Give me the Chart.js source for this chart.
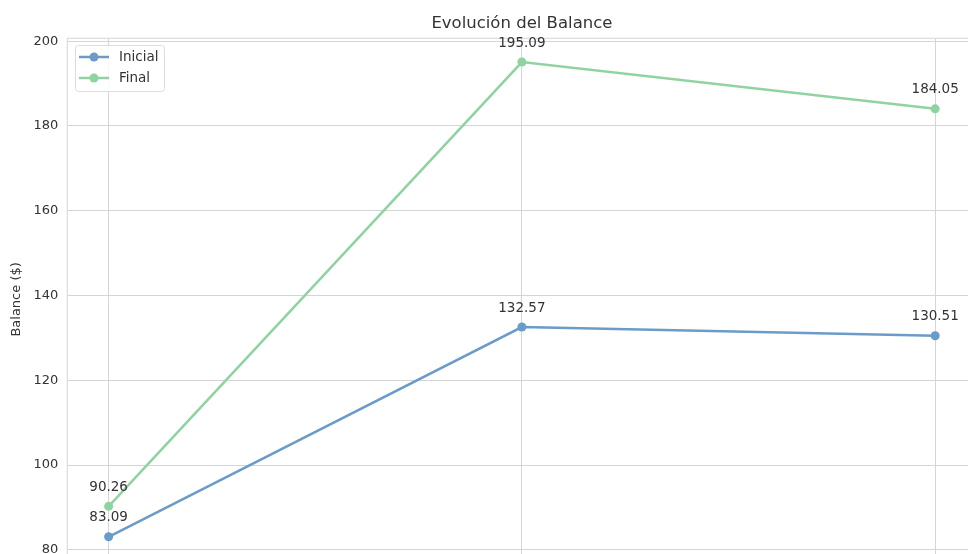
<!DOCTYPE html>
<html>
<head>
<meta charset="utf-8">
<script src="https://cdn.jsdelivr.net/npm/chart.js@4"></script>
<style>
  html, body { margin: 0; padding: 0; background: #ffffff; overflow: hidden; }
  #frame { width: 968px; height: 554px; overflow: hidden; position: relative; }
  #box { width: 1000px; height: 580px; position: absolute; left: 0; top: 0; }
</style>
</head>
<body>
<div id="frame"><div id="box"><canvas id="chart"></canvas></div></div>
<script>
// Balance per period (x positions 0, 1, 2)
const periods = [0, 1, 2];
const inicial = [83.09, 132.57, 130.51];
const final = [90.26, 195.09, 184.05];
const yTicks = [80, 100, 120, 140, 160, 180, 200];

const chartTitle = 'Evolución del Balance';
const yTitle = 'Balance ($)';

const BLUE = '#6b9bc8';
const GREEN = '#8fd3a1';
const TEXT = '#333333';
const GRID = '#d5d5d5';
const FONT = '"DejaVu Sans", sans-serif';

// Title, plot frame, value labels and the boxed legend
const decorations = {
  id: 'decorations',
  beforeDatasetsDraw(chart) {
    const { ctx, chartArea: a } = chart;
    ctx.save();
    ctx.strokeStyle = GRID;
    ctx.lineWidth = 1;
    ctx.strokeRect(a.left, a.top, a.right - a.left, a.bottom - a.top);
    ctx.restore();
  },
  afterDatasetsDraw(chart) {
    const { ctx, chartArea: a } = chart;
    ctx.save();
    // title
    ctx.fillStyle = TEXT;
    ctx.font = '16.5px ' + FONT;
    ctx.textAlign = 'center';
    ctx.textBaseline = 'middle';
    ctx.fillText(chartTitle, (a.left + a.right) / 2, 24);

    // value labels above each point
    ctx.font = '13.5px ' + FONT;
    chart.data.datasets.forEach((ds, i) => {
      const meta = chart.getDatasetMeta(i);
      meta.data.forEach((pt, j) => {
        ctx.fillText(ds.data[j].y.toFixed(2), pt.x, pt.y - 19);
      });
    });

    // legend box
    const bx = 75.5, by = 45.5, bw = 89, bh = 46;
    ctx.fillStyle = 'rgba(255,255,255,0.85)';
    ctx.strokeStyle = '#dddddd';
    ctx.lineWidth = 1;
    ctx.beginPath();
    ctx.roundRect(bx, by, bw, bh, 3);
    ctx.fill();
    ctx.stroke();
    chart.data.datasets.forEach((ds, i) => {
      const y = 57 + i * 21;
      ctx.strokeStyle = ds.borderColor;
      ctx.lineWidth = 2.5;
      ctx.beginPath();
      ctx.moveTo(79, y);
      ctx.lineTo(109, y);
      ctx.stroke();
      ctx.fillStyle = ds.borderColor;
      ctx.beginPath();
      ctx.arc(94, y, 4.5, 0, Math.PI * 2);
      ctx.fill();
      ctx.fillStyle = TEXT;
      ctx.textAlign = 'left';
      ctx.font = '13.5px ' + FONT;
      ctx.fillText(ds.label, 119, y);
    });
    ctx.restore();
  }
};

const toPoints = vals => periods.map((p, i) => ({ x: p, y: vals[i] }));

new Chart(document.getElementById('chart'), {
  type: 'line',
  data: {
    datasets: [
      { label: 'Inicial', data: toPoints(inicial), borderColor: BLUE, backgroundColor: BLUE,
        borderWidth: 2.5, pointRadius: 4.5, pointBorderWidth: 0, tension: 0 },
      { label: 'Final', data: toPoints(final), borderColor: GREEN, backgroundColor: GREEN,
        borderWidth: 2.5, pointRadius: 4.5, pointBorderWidth: 0, tension: 0 }
    ]
  },
  options: {
    responsive: true,
    maintainAspectRatio: false,
    animation: false,
    layout: { padding: { left: 0, top: 38.3, right: 23.5, bottom: 19.5 } },
    plugins: { legend: { display: false }, title: { display: false }, tooltip: { enabled: false } },
    scales: {
      x: {
        type: 'linear',
        min: -0.1,
        max: 2.1,
        afterBuildTicks: s => { s.ticks = periods.map(v => ({ value: v })); },
        afterFit: s => { s.height = 0; },
        ticks: { display: false },
        grid: { color: GRID, lineWidth: 1, drawTicks: false },
        border: { display: false }
      },
      y: {
        min: 77.49,
        max: 200.69,
        afterBuildTicks: s => { s.ticks = yTicks.map(v => ({ value: v })); },
        afterFit: s => { s.width = 67.3; },
        ticks: { color: TEXT, font: { family: FONT, size: 13 }, padding: 9 },
        grid: { color: GRID, lineWidth: 1, drawTicks: false },
        border: { display: false },
        title: { display: true, text: yTitle, color: TEXT, font: { family: FONT, size: 13 }, padding: { top: 9, bottom: 0 } }
      }
    }
  },
  plugins: [decorations]
});
</script>
</body>
</html>
